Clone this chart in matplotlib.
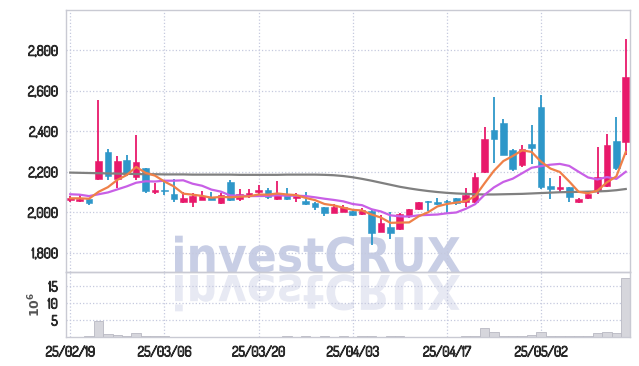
import os
import numpy as np
import pandas as pd
import matplotlib
matplotlib.use('Agg')
import matplotlib.pyplot as plt
import matplotlib.patheffects as pe
from matplotlib.textpath import TextPath
from matplotlib.patches import PathPatch
from matplotlib.font_manager import FontProperties
from matplotlib.transforms import Affine2D, IdentityTransform

# trading days (KRX holidays removed)
holidays = ['2025-03-03', '2025-05-01', '2025-05-05', '2025-05-06']
dates = [d for d in pd.bdate_range('2025-02-19', '2025-05-19')
         if d.strftime('%Y-%m-%d') not in holidays]

open_ = [2060, 2056, 2064, 2163, 2296, 2161, 2257, 2174, 2217, 2100,
         2110, 2089, 2052, 2050, 2062, 2076, 2043, 2150, 2063, 2081,
         2098, 2108, 2064, 2089, 2068, 2056, 2046, 2023, 1997, 2000,
         2007, 1989, 2005, 1903, 1924, 1916, 1980, 2013, 2054, 2049,
         2052, 2068, 2051, 2051, 2199, 2405, 2439, 2306, 2232, 2336,
         2517, 2130, 2115, 2122, 2048, 2071, 2106, 2128, 2350, 2348]
high = [2078, 2088, 2068, 2553, 2314, 2278, 2281, 2380, 2220, 2145,
        2160, 2163, 2098, 2092, 2102, 2098, 2094, 2158, 2112, 2116,
        2133, 2117, 2155, 2117, 2092, 2100, 2051, 2025, 2040, 2035,
        2012, 2020, 2010, 1985, 2002, 1995, 2015, 2050, 2056, 2068,
        2059, 2072, 2117, 2191, 2421, 2566, 2459, 2310, 2331, 2430,
        2578, 2166, 2178, 2125, 2070, 2098, 2322, 2384, 2468, 2857]
low = [2050, 2048, 2036, 2158, 2158, 2117, 2178, 2158, 2092, 2088,
       2085, 2051, 2046, 2023, 2058, 2060, 2040, 2056, 2054, 2071,
       2087, 2064, 2059, 2062, 2051, 2036, 2010, 1980, 1995, 1998,
       1980, 1986, 1837, 1900, 1867, 1912, 1972, 2010, 2007, 2035,
       1997, 2035, 2026, 2046, 2191, 2243, 2281, 2205, 2224, 2237,
       2112, 2063, 2092, 2048, 2044, 2066, 2089, 2126, 2207, 2281]
close = [2072, 2066, 2046, 2252, 2178, 2252, 2186, 2247, 2105, 2110,
         2106, 2066, 2068, 2078, 2081, 2062, 2084, 2062, 2089, 2094,
         2108, 2076, 2092, 2064, 2078, 2040, 2023, 1997, 2026, 2023,
         1985, 2010, 1898, 1947, 1895, 1990, 2013, 2049, 2050, 2040,
         2050, 2044, 2084, 2172, 2360, 2362, 2281, 2211, 2311, 2318,
         2125, 2112, 2125, 2076, 2064, 2090, 2175, 2331, 2220, 2668]
# volume in millions of shares
volume = [0.03, 0.03, 0.3, 4.7, 0.9, 0.5, 0.2, 1.2, 0.2, 0.2,
          0.2, 0.15, 0.03, 0.03, 0.03, 0.03, 0.03, 0.03, 0.03, 0.03,
          0.03, 0.03, 0.05, 0.2, 0.05, 0.2, 0.05, 0.2, 0.05, 0.2,
          0.15, 0.2, 0.25, 0.05, 0.2, 0.2, 0.03, 0.03, 0.03, 0.03,
          0.03, 0.05, 0.25, 0.25, 2.6, 1.5, 0.2, 0.2, 0.2, 0.5,
          1.5, 0.2, 0.2, 0.2, 0.2, 0.25, 1.1, 1.5, 1.1, 17.4]
ma5 = [2068, 2068, 2066, 2100, 2123, 2159, 2183, 2223, 2194, 2180,
       2151, 2127, 2091, 2086, 2080, 2071, 2075, 2073, 2076, 2078,
       2087, 2086, 2092, 2087, 2084, 2070, 2059, 2040, 2033, 2022,
       2011, 2008, 1988, 1973, 1947, 1948, 1949, 1979, 1999, 2028,
       2040, 2047, 2054, 2078, 2142, 2204, 2252, 2277, 2305, 2297,
       2249, 2215, 2198, 2151, 2100, 2093, 2106, 2147, 2176, 2297]
ma10 = [2088, 2086, 2079, 2088, 2097, 2112, 2127, 2145, 2152, 2151,
        2155, 2155, 2157, 2140, 2130, 2111, 2101, 2082, 2081, 2079,
        2079, 2080, 2083, 2081, 2081, 2079, 2073, 2066, 2060, 2053,
        2040, 2034, 2014, 2003, 1984, 1979, 1978, 1984, 1986, 1988,
        1994, 1998, 2016, 2039, 2085, 2122, 2149, 2165, 2192, 2219,
        2227, 2234, 2238, 2228, 2199, 2171, 2161, 2173, 2164, 2199]
ma60 = [2195, 2194, 2193, 2192, 2191, 2190, 2189, 2188, 2187, 2187,
        2186, 2186, 2186, 2185, 2185, 2185, 2185, 2185, 2184, 2184,
        2184, 2184, 2184, 2185, 2185, 2185, 2185, 2184, 2182, 2178,
        2172, 2164, 2155, 2145, 2135, 2125, 2117, 2110, 2104, 2099,
        2095, 2092, 2090, 2088, 2087, 2087, 2088, 2089, 2090, 2092,
        2094, 2096, 2098, 2099, 2100, 2101, 2102, 2104, 2108, 2114]

price_ticks = [1800, 2000, 2200, 2400, 2600, 2800]
vol_ticks = [5, 10, 15]

red = '#e8196b'
blue = '#2e97c9'
grid_c = '#c5c9de'
spine_c = '#c9cad3'
label_c = '#2a2a2a'

plt.rcParams['font.family'] = ['Dosis', 'DejaVu Sans']
plt.rcParams['font.weight'] = 'bold'
plt.rcParams['font.size'] = 10

fig = plt.figure(figsize=(6.39, 3.66), dpi=100)
fig.patch.set_facecolor('white')
ax = fig.add_axes([0.1033, 0.2568, 0.8826, 0.7158])
axv = fig.add_axes([0.1033, 0.0792, 0.8826, 0.1776], sharex=ax)

x = np.arange(len(dates))
o = np.array(open_)
c = np.array(close)
up = c >= o
cols = np.where(up, red, blue)

ax.vlines(x, low, high, colors=cols, linewidth=1.3, zorder=2)
ax.bar(x, np.maximum(np.abs(c - o), 3), bottom=np.minimum(o, c), width=0.7,
       color=cols, edgecolor=cols, linewidth=0.4, zorder=2.5)

ax.plot(x, ma60, color='#808080', linewidth=1.6, zorder=3)
ax.plot(x, ma10, color='#c85fe6', linewidth=1.6, zorder=3)
ax.plot(x, ma5, color='#ef8048', linewidth=1.6, zorder=3)

axv.bar(x, volume, width=1.0, color='#d6d6dc', edgecolor='#b8b8c2', linewidth=0.6, zorder=2)

ax.set_xlim(-0.45, len(dates) - 0.55)
ax.set_ylim(1704, 2998)
axv.set_ylim(0, 19.1)

ax.set_yticks(price_ticks)
ax.set_yticklabels(['{:,}'.format(v) for v in price_ticks])
axv.set_yticks(vol_ticks)
axv.set_yticklabels([str(v) for v in vol_ticks])
axv.set_xticks(x[::10])
axv.set_xticklabels([d.strftime('%y/%m/%d') for d in dates[::10]])
ax.tick_params(labelbottom=False)

axv.set_ylabel(r'$10^6$', fontsize=9, color='#555555', labelpad=3)

for a in (ax, axv):
    a.set_facecolor('none')
    a.grid(True, linestyle=':', color=grid_c, linewidth=0.9)
    a.set_axisbelow(True)
    a.tick_params(length=0, pad=6, colors=label_c, labelsize=10)
    for s in a.spines.values():
        s.set_color(spine_c)
        s.set_linewidth(1.0)

# watermark with its reflection (bundled DejaVu Sans Bold file)
wm_font = FontProperties(fname=os.path.join(matplotlib.get_data_path(), 'fonts', 'ttf', 'DejaVuSans-Bold.ttf'))
wm = TextPath((0, 0), 'investCRUX', size=50, prop=wm_font)
ext = wm.get_extents()
sx = 285 / ext.width
sy = 37 / ext.height
H = fig.get_figheight() * fig.dpi
main_tr = Affine2D().translate(-ext.x0, 0).scale(sx, sy).translate(175, H - 272)
refl_tr = Affine2D().translate(-ext.x0, 0).scale(sx, -sy).translate(175, H - 275)
fig.add_artist(PathPatch(main_tr.transform_path(wm), transform=IdentityTransform(),
                         facecolor='#c8cee5', edgecolor='none', zorder=-1))
fig.add_artist(PathPatch(refl_tr.transform_path(wm), transform=IdentityTransform(),
                         facecolor='#e7e9f3', edgecolor='none', zorder=-1))

# thicken the light Dosis glyphs a little
fig.canvas.draw()
for a in (ax, axv):
    for lab in a.get_xticklabels() + a.get_yticklabels():
        lab.set_path_effects([pe.withStroke(linewidth=0.9, foreground=label_c)])

fig.savefig('out.png', dpi=100)
